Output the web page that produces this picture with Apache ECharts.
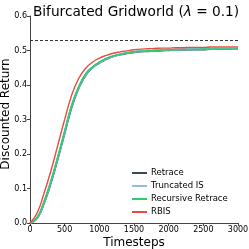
<!DOCTYPE html>
<html>
<head>
<meta charset="utf-8">
<script src="https://cdn.jsdelivr.net/npm/echarts@6/dist/echarts.min.js"></script>
<style>html,body{margin:0;padding:0;background:#fff}#c{width:249px;height:249px}</style>
</head>
<body>
<div id="c"></div>
<script>
const timesteps = [0,100,200,300,400,500,600,700,800,900,1000,1100,1200,1300,1400,1500,1600,1700,1800,1900,2000,2100,2200,2300,2400,2500,2600,2700,2800,2900,3000];
const retrace = [0,0.013,0.057,0.116,0.186,0.261,0.336,0.390,0.428,0.450,0.464,0.475,0.483,0.488,0.492,0.495,0.497,0.498,0.499,0.500,0.501,0.502,0.502,0.503,0.503,0.503,0.504,0.504,0.504,0.504,0.504];
const truncatedIS = [0,0.014,0.059,0.119,0.189,0.264,0.339,0.392,0.430,0.451,0.465,0.476,0.483,0.489,0.493,0.496,0.498,0.499,0.500,0.501,0.502,0.502,0.503,0.503,0.503,0.504,0.504,0.504,0.504,0.504,0.505];
const recursiveRetrace = [0,0.015,0.060,0.120,0.190,0.265,0.340,0.393,0.431,0.452,0.466,0.477,0.484,0.489,0.493,0.496,0.498,0.499,0.500,0.501,0.502,0.502,0.503,0.503,0.503,0.504,0.504,0.504,0.504,0.504,0.505];
const rbis = [0,0.028,0.085,0.150,0.225,0.300,0.370,0.418,0.448,0.466,0.478,0.486,0.492,0.496,0.499,0.502,0.504,0.505,0.506,0.507,0.507,0.508,0.508,0.509,0.509,0.509,0.510,0.510,0.510,0.510,0.510];
const optimalValue = 0.53;
const seriesNames = ['Retrace','Truncated IS','Recursive Retrace','RBIS'];
const xName = 'Timesteps';
const yName = 'Discounted Return';

const colors = ['#34495e','#8fbde0','#2ecc71','#e74c3c'];
const pair = arr => timesteps.map((t,i)=>[t,arr[i]]);
const chart = echarts.init(document.getElementById('c'));
const font = 'DejaVu Sans';
const mk = (name, arr, color, width, z) => ({
  name, type:'line', data: pair(arr), showSymbol:false, symbol:'none', smooth:true,
  lineStyle:{color, width}, itemStyle:{color}, z, animation:false
});
chart.setOption({
  animation:false,
  textStyle:{fontFamily:font},
  title:{
    text:'Bifurcated Gridworld ({i|λ} = 0.1)',
    left:131, textAlign:'center', top:0,
    textStyle:{fontFamily:font, fontSize:13.7, fontWeight:'normal', color:'#000',
      rich:{i:{fontFamily:font, fontSize:13.7, fontStyle:'italic', color:'#000'}}}
  },
  graphic:[
    {type:'text', x:134, y:242.5, style:{text:xName, font:'12px "DejaVu Sans"', fill:'#000', align:'center', verticalAlign:'middle'}},
    {type:'text', x:6, y:114, rotation:Math.PI/2, style:{text:yName, font:'12px "DejaVu Sans"', fill:'#000', align:'center', verticalAlign:'middle'}}
  ],
  grid:{left:30, right:11, top:16, bottom:26, containLabel:false, outerBoundsMode:'none'},
  legend:{
    data: seriesNames.map((n,i)=>({name:n, icon:'rect'})),
    orient:'vertical', left:132, top:168, itemWidth:15, itemHeight:2, itemGap:3,
    padding:0,
    textStyle:{fontFamily:font, fontSize:8.5, color:'#000', lineHeight:10, padding:[0,0,0,-1]}
  },
  xAxis:{
    type:'value', min:0, max:3000, interval:500,
    axisLine:{show:true, lineStyle:{color:'#444', width:1}},
    axisTick:{show:true, length:3, lineStyle:{color:'#444'}},
    axisLabel:{fontFamily:font, fontSize:8, color:'#000', margin:3, showMinLabel:true, showMaxLabel:true, formatter:v=>String(v)},
    splitLine:{show:false}
  },
  yAxis:{
    type:'value', min:0, max:0.60001, interval:0.1,
    axisLine:{show:true, lineStyle:{color:'#444', width:1}},
    axisTick:{show:true, length:3, lineStyle:{color:'#444'}},
    axisLabel:{fontFamily:font, fontSize:8, color:'#000', margin:3, showMinLabel:true, showMaxLabel:true, formatter:v=>v.toFixed(1)},
    splitLine:{show:false}
  },
  series:[
    mk(seriesNames[0], retrace, colors[0], 2, 2),
    mk(seriesNames[1], truncatedIS, colors[1], 2, 3),
    mk(seriesNames[2], recursiveRetrace, colors[2], 1.6, 4),
    mk(seriesNames[3], rbis, colors[3], 1.4, 5),
    {type:'line', data:[], markLine:{silent:true, symbol:'none', label:{show:false},
      lineStyle:{type:[3,2], color:'#333', width:1}, data:[{yAxis:optimalValue}]}, z:1}
  ]
});
</script>
</body>
</html>
